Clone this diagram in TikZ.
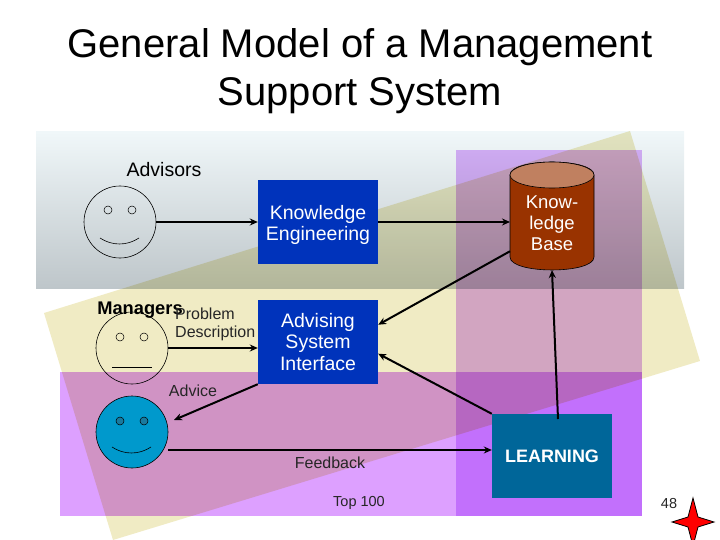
\documentclass[tikz,border=0pt]{standalone}
\usepackage{fontspec}
\setmainfont{Liberation Sans}
\usetikzlibrary{arrows.meta}
\definecolor{bandtop}{HTML}{F0F7F9}
\definecolor{bandbot}{HTML}{BEC6CA}
\definecolor{lilac}{HTML}{DDA0FF}
\definecolor{lilacv}{HTML}{E0B4FC}
\definecolor{paleyel}{HTML}{F0EBC4}
\definecolor{boxblue}{HTML}{0033BB}
\definecolor{learnblue}{HTML}{006699}
\definecolor{facefill}{HTML}{0099CC}
\definecolor{eyefill}{HTML}{1A7A9E}
\definecolor{cylbody}{HTML}{993300}
\definecolor{cyltop}{HTML}{C08060}
\tikzset{
 x=1pt,y=-1pt,
 flowbox/.style={minimum width=120pt,minimum height=84pt,inner sep=0pt,text=white,align=center,font=\fontsize{19.5}{21.5}\selectfont},
 facecirc/.style={circle,draw=black,line width=0.6pt,minimum size=72pt,inner sep=0pt},
 eye/.style={circle,draw=black,line width=0.5pt,minimum size=8pt,inner sep=0pt},
 conn/.style={line width=2pt,-{Stealth[length=8pt,width=7pt]}},
 lbl/.style={inner sep=0pt,font=\fontsize{16}{18}\selectfont,text=black!85},
 mouth/.style={line width=0.6pt},
}
\begin{document}
\begin{tikzpicture}
\useasboundingbox (0,0) rectangle (720,540);
% background panels
\shade[top color=bandtop,bottom color=bandbot] (36,132) rectangle (684,288);
\fill[lilac] (60,372) rectangle (642,516);
\begin{scope}[blend mode=multiply]
\fill[lilacv] (456,150) rectangle (642,516);
\fill[paleyel] (44,313) -- (630,131) -- (700,361) -- (113,540) -- cycle;
\end{scope}
% title
\node[inner sep=0pt,anchor=base,font=\fontsize{40}{48}\selectfont] (ttl1) at (360,58) {General Model of a Management};
\node[inner sep=0pt,anchor=base,font=\fontsize{40}{48}\selectfont] (ttl2) at (360,106) {Support System};
% boxes
\node[flowbox,fill=boxblue] (ke) at (318,222) {\rule{0pt}{20pt}Knowledge\\Engineering};
\node[flowbox,fill=boxblue] (asi) at (318,342) {Advising\\System\\Interface};
\node[flowbox,fill=learnblue,font=\bfseries\fontsize{18}{21}\selectfont] (lrn) at (552,456) {LEARNING};
% cylinder
\fill[cylbody,draw=black,line width=0.6pt] (510,175) -- (510,257) .. controls (510,274.3) and (594,274.3) .. (594,257) -- (594,175) .. controls (594,157.7) and (510,157.7) .. (510,175) -- cycle;
\draw[fill=cyltop,line width=0.6pt] (552,175) ellipse [x radius=42pt,y radius=13pt];
\node[minimum width=84pt,minimum height=108pt,inner sep=0pt,outer sep=0pt,text=white,align=center,font=\fontsize{18.5}{21}\selectfont] (kb) at (552,216) {\rule{0pt}{28pt}Know-\\ledge\\Base};
% faces
\node[facecirc] (adv) at (120,222) {};
\node[eye] (adve1) at (108,210) {};
\node[eye] (adve2) at (132,210) {};
\draw[mouth] (100,238) .. controls (112,246) and (127,246) .. (139,238);
\node[facecirc] (mgr) at (132,348) {};
\node[eye] (mgre1) at (120,337) {};
\node[eye] (mgre2) at (144,337) {};
\draw[mouth] (112,367) -- (152,367);
\node[facecirc,fill=facefill] (usr) at (132,432) {};
\node[eye,fill=eyefill] (usre1) at (120,421) {};
\node[eye,fill=eyefill] (usre2) at (144,421) {};
\draw[mouth] (112,447) .. controls (124,455) and (139,455) .. (151,447);
% connector free ends
\coordinate (advicetip) at (174,420);
\coordinate (fbstart) at (168,450);
\coordinate (lrntop) at (558,419);
% connectors
\draw[conn] (adv.east) -- (ke.west);
\draw[conn] (ke.east) -- (kb.west |- ke.east);
\draw[conn] (mgr.east) -- (asi.west |- mgr.east);
\draw[conn] (kb.220) -- (asi.16);
\draw[conn] (lrn.north west) -- (asi.-11);
\draw[conn] (lrntop) -- (kb.south);
\draw[conn] (asi.south west) -- (advicetip);
\draw[conn] (fbstart) -- (lrn.west |- fbstart);
% labels
\node[lbl,font=\fontsize{19.5}{20}\selectfont,text=black] (tadv) at (164,170) {Advisors};
\node[lbl,font=\bfseries\fontsize{18.3}{20}\selectfont,text=black] (tmgr) at (140,310) {Managers};
\node[lbl,anchor=west] (tprob) at (175,314) {Problem};
\node[lbl,anchor=west] (tdesc) at (175,333) {Description};
\node[lbl] (tadvice) at (193,391) {Advice};
\node[lbl] (tfb) at (330,463) {Feedback};
\node[lbl,font=\fontsize{14.5}{17}\selectfont] (ttop) at (359,503) {Top 100};
\node[lbl,font=\fontsize{14.5}{17}\selectfont] (tnum) at (669,504) {48};
% star
\draw[fill=red,draw=black,line width=0.8pt] (693,498) -- (698,517) -- (714,522) -- (698,527) -- (693,546) -- (688,527) -- (672,522) -- (688,517) -- cycle;
\end{tikzpicture}
\end{document}
